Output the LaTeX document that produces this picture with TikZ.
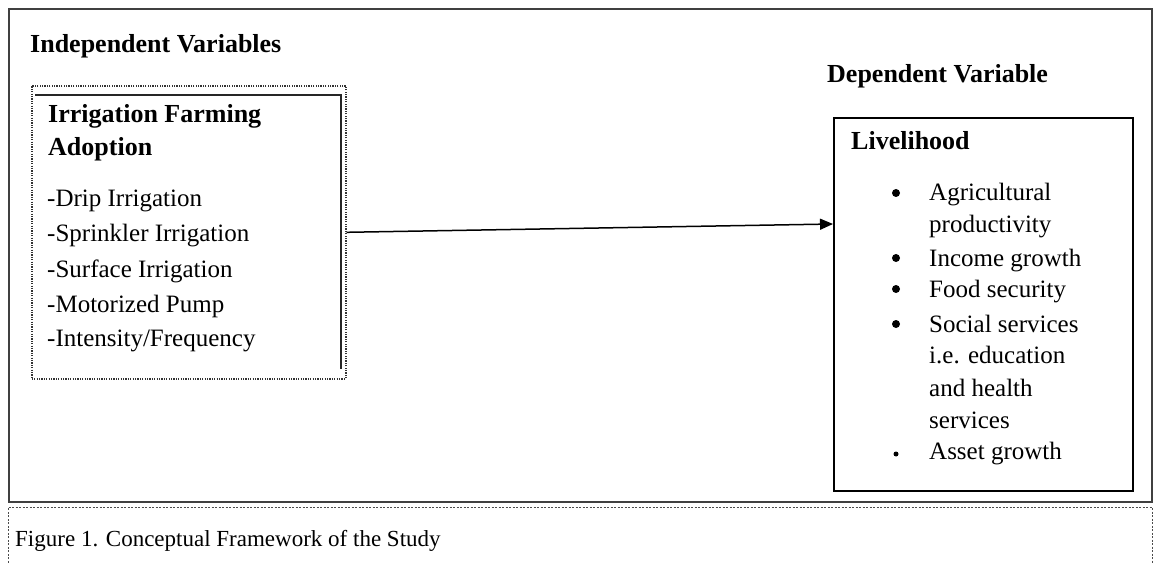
\documentclass[tikz,border=0pt]{standalone}
\usepackage{fontspec}
\setmainfont{Liberation Serif}
\usetikzlibrary{arrows.meta}

\tikzset{
  head/.style={anchor=base west, inner sep=0pt, font=\fontsize{26}{30}\selectfont\bfseries},
  entry/.style={anchor=base west, inner sep=0pt, font=\fontsize{25}{30}\selectfont},
  dot/.style={circle, fill=black, inner sep=0pt, minimum size=8pt},
}

\begin{document}
\begin{tikzpicture}[x=1pt,y=-1pt]
\useasboundingbox (0,0) rectangle (1154,564);
% frame and caption box
\draw[line width=1.5pt,black!75] (9,9) rectangle (1152,502);
\draw[black!70,line width=0.8pt,dash pattern=on 2pt off 1.5pt] (8,566) -- (8,507) -- (1152,507) -- (1152,566);
\node[entry,font=\fontsize{23}{28}\selectfont] (caption) at (15,546) {Figure 1. Conceptual Framework of the Study};
% independent side
\node[head] (indeptitle) at (30,53) {Independent Variables};
\node[draw,line width=1.6pt,dash pattern=on 1.2pt off 1.2pt,black!80,minimum width=314pt,minimum height=293pt,anchor=north west] (indep) at (31,85) {};
\draw[line width=1.3pt,black!85] (35,95) -- (341,95) -- (341,369);
\node[head] (irrig) at (48,123) {Irrigation Farming};
\node[head] (adopt) at (48,156) {Adoption};
\node[entry] (drip) at (47,207) {-Drip Irrigation};
\node[entry] (sprink) at (47,242) {-Sprinkler Irrigation};
\node[entry] (surf) at (47,277) {-Surface Irrigation};
\node[entry] (pump) at (47,312) {-Motorized Pump};
\node[entry] (freq) at (47,346) {-Intensity/Frequency};
% dependent side
\node[head] (deptitle) at (827,83) {Dependent Variable};
\node[draw,line width=2pt,minimum width=299pt,minimum height=373pt,anchor=north west] (dep) at (833,117) {};
\node[head] (live) at (851,150) {Livelihood};
\node[dot] (b1) at (896,193) {};
\node[dot] (b2) at (896,258) {};
\node[dot] (b3) at (896,289) {};
\node[dot] (b4) at (896,324) {};
\node[dot,minimum size=5pt] (b5) at (896,454) {};
\node[entry] (agri) at (929,201) {Agricultural};
\node[entry] (prod) at (929,233) {productivity};
\node[entry] (inc) at (929,266) {Income growth};
\node[entry] (food) at (929,297) {Food security};
\node[entry] (soc) at (929,332) {Social services};
\node[entry] (edu) at (929,363) {i.e. education};
\node[entry] (health) at (929,396) {and health};
\node[entry] (serv) at (929,428) {services};
\node[entry] (asset) at (929,459) {Asset growth};
% link
\coordinate (tip) at (833,224);
\draw[line width=1.5pt,-{Triangle[length=13pt,width=11pt]}] (indep.east) -- (tip);
\end{tikzpicture}
\end{document}
